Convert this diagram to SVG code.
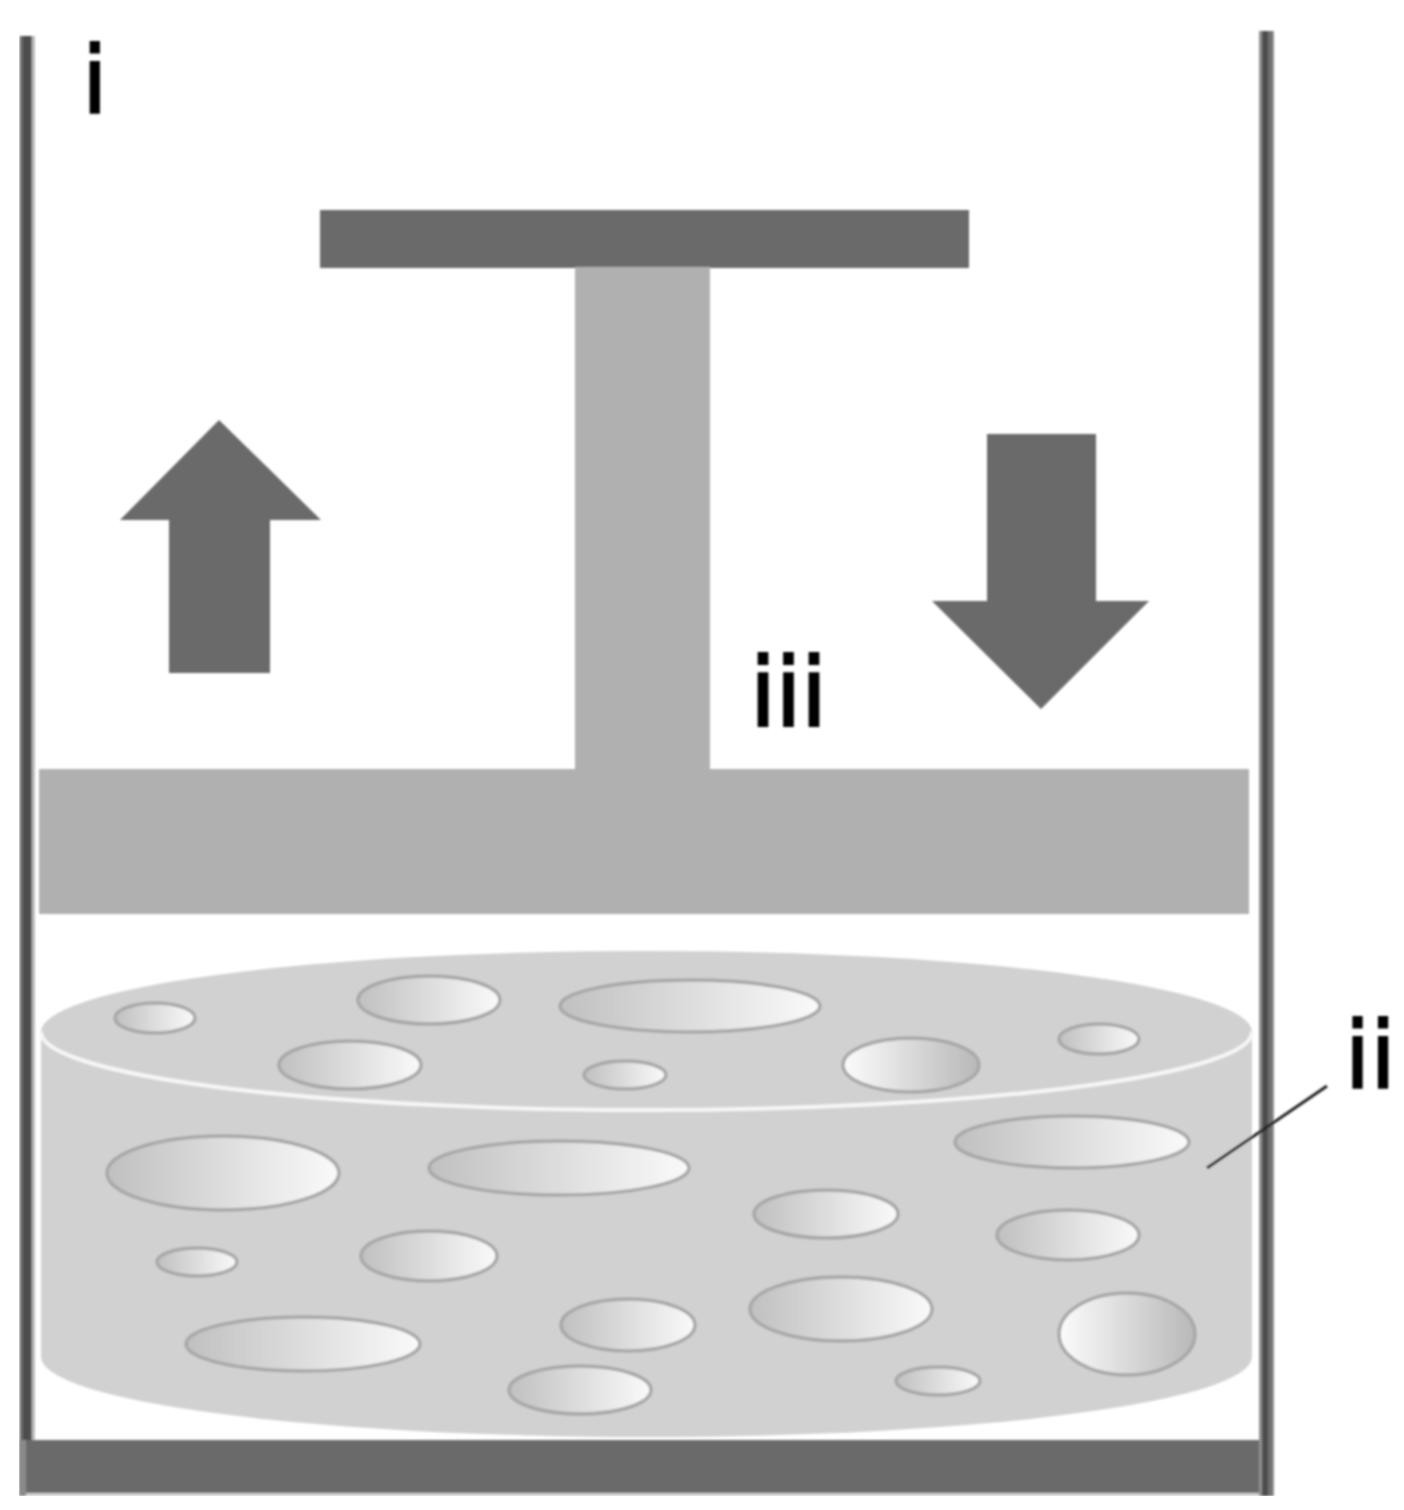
<svg xmlns="http://www.w3.org/2000/svg" width="1404" height="1510" viewBox="0 0 1404 1510">
<style>
.dark{fill:#6b6b6b}
.mid{fill:#b0b0b0}
.b{fill:url(#lr);stroke:#a8a8a8;stroke-width:3.5}
.r{fill:url(#rl);stroke:#a8a8a8;stroke-width:3.5}
text{font-family:"DejaVu Sans",sans-serif;fill:#000;stroke:#000;stroke-width:2}
</style>
<defs>
<linearGradient id="lr"><stop offset="0" stop-color="#c0c0c0"/><stop offset="1" stop-color="#fafafa"/></linearGradient>
<linearGradient id="rl"><stop offset="0" stop-color="#fcfcfc"/><stop offset="1" stop-color="#b8b8b8"/></linearGradient>
<filter id="soft" x="0" y="0" width="1" height="1" filterUnits="objectBoundingBox"><feGaussianBlur stdDeviation="0.8"/></filter>
</defs>
<rect width="1404" height="1510" fill="#fff"/>
<g filter="url(#soft)">
<g id="vessel">
<rect x="26" y="1440" width="1240" height="53" class="dark"/>
<rect x="26" y="1493" width="1235" height="3" fill="#cfcfcf"/>
<rect x="19" y="36" width="16" height="1404" fill="#bcbcbc"/>
<rect x="19" y="1440" width="7" height="56" fill="#8a8a8a"/>
<rect x="20" y="36" width="12" height="1404" fill="#6a6a6a"/>
<rect x="23" y="36" width="8" height="1404" fill="#4d4d4d"/>
<rect x="1259" y="31" width="15" height="1465" fill="#8e8e8e"/>
<rect x="1262" y="31" width="10" height="1465" fill="#707070"/>
<rect x="1262" y="31" width="6" height="1465" fill="#4d4d4d"/>
</g>
<g id="piston">
<rect class="dark" x="320" y="210" width="649" height="58"/>
<rect class="mid" x="575" y="267" width="135" height="503"/>
<rect class="mid" x="39" y="769" width="1210" height="145"/>
</g>
<g id="arrow-up"><polygon class="dark" points="219,420 321,520 270,520 270,673 169,673 169,520 120,520"/></g>
<g id="arrow-down"><polygon class="dark" points="987,434 1096,434 1096,601 1149,601 1041,709 932,601 987,601"/></g>
<g id="sample">
<path d="M41 1032A605 81 0 0 1 1252 1032V1357A605 80 0 0 1 41 1357Z" fill="#d1d1d1"/>
<path d="M41 1032A605 78 0 0 0 1252 1032" fill="none" stroke="#f6f6f6" stroke-width="4"/>
<ellipse class="b" cx="155" cy="1018" rx="40" ry="15"/>
<ellipse class="b" cx="429" cy="1000" rx="71" ry="24"/>
<ellipse class="b" cx="690" cy="1006" rx="130" ry="26"/>
<ellipse class="b" cx="350" cy="1065" rx="71" ry="24"/>
<ellipse class="b" cx="625" cy="1075" rx="41" ry="14"/>
<ellipse class="r" cx="911" cy="1065" rx="68" ry="27"/>
<ellipse class="b" cx="1099" cy="1039" rx="40" ry="15"/>
<ellipse class="b" cx="223" cy="1173" rx="116" ry="37"/>
<ellipse class="b" cx="559" cy="1168" rx="130" ry="27"/>
<ellipse class="b" cx="1072" cy="1142" rx="117" ry="26"/>
<ellipse class="b" cx="826" cy="1214" rx="72" ry="24"/>
<ellipse class="b" cx="1068" cy="1235" rx="71" ry="25"/>
<ellipse class="b" cx="197" cy="1262" rx="40" ry="14"/>
<ellipse class="b" cx="429" cy="1256" rx="68" ry="25"/>
<ellipse class="b" cx="303" cy="1344" rx="117" ry="27"/>
<ellipse class="b" cx="628" cy="1325" rx="67" ry="26"/>
<ellipse class="b" cx="841" cy="1309" rx="91" ry="32"/>
<ellipse class="r" cx="1127" cy="1334" rx="68" ry="41"/>
<ellipse class="b" cx="580" cy="1390" rx="71" ry="24"/>
<ellipse class="b" cx="938" cy="1381" rx="42" ry="14"/>
</g>
<g id="connectors"><path d="M1207 1168L1327 1086" fill="none" stroke="#222" stroke-width="3"/></g>
<g id="labels">
<text x="82" y="113" font-size="92">i</text>
<text x="749.5" y="726" font-size="97" letter-spacing="-1.5">iii</text>
<text x="1344.7" y="1088" font-size="92">ii</text>
</g>
</g>
</svg>
